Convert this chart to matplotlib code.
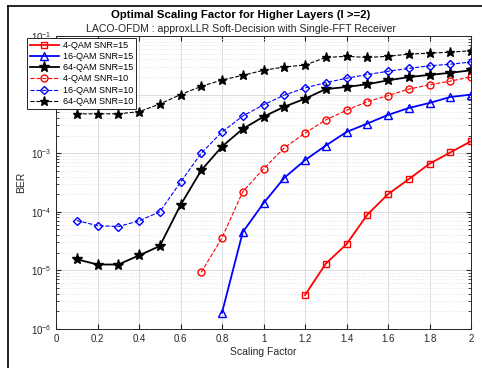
import numpy as np
import matplotlib.pyplot as plt
from matplotlib.lines import Line2D

plt.rcParams['font.family'] = ['Liberation Sans', 'DejaVu Sans']

sf = [0.1, 0.2, 0.3, 0.4, 0.5, 0.6, 0.7, 0.8, 0.9, 1.0,
      1.1, 1.2, 1.3, 1.4, 1.5, 1.6, 1.7, 1.8, 1.9, 2.0]

# SNR = 15
qam4_15 = [3.8e-6, 1.3e-5, 2.8e-5, 8.9e-5, 2.0e-4, 3.6e-4, 6.6e-4, 1.03e-3, 1.6e-3]
qam16_15 = [1.9e-6, 4.5e-5, 1.4e-4, 3.8e-4, 7.6e-4, 1.35e-3, 2.3e-3, 3.2e-3,
            4.5e-3, 5.9e-3, 7.2e-3, 9.1e-3, 1.0e-2]
qam64_15 = [1.55e-5, 1.26e-5, 1.26e-5, 1.8e-5, 2.6e-5, 1.3e-4, 5.1e-4, 1.3e-3,
            2.6e-3, 4.2e-3, 6.2e-3, 8.5e-3, 1.24e-2, 1.35e-2, 1.5e-2, 1.75e-2,
            1.99e-2, 2.17e-2, 2.35e-2, 2.6e-2]

# SNR = 10
qam4_10 = [9.3e-6, 3.6e-5, 2.2e-4, 5.4e-4, 1.23e-3, 2.2e-3, 3.7e-3, 5.4e-3,
           7.6e-3, 9.6e-3, 1.24e-2, 1.47e-2, 1.7e-2, 2.0e-2]
qam16_10 = [7.1e-5, 5.8e-5, 5.6e-5, 7.0e-5, 1.0e-4, 3.2e-4, 1.0e-3, 2.3e-3,
            4.3e-3, 6.7e-3, 9.8e-3, 1.3e-2, 1.6e-2, 1.9e-2, 2.2e-2, 2.5e-2,
            2.8e-2, 3.1e-2, 3.3e-2, 3.6e-2]
qam64_10 = [4.7e-3, 4.7e-3, 4.7e-3, 5.1e-3, 6.9e-3, 1.0e-2, 1.38e-2, 1.78e-2,
            2.13e-2, 2.6e-2, 2.96e-2, 3.2e-2, 4.3e-2, 4.5e-2, 4.3e-2, 4.5e-2,
            4.9e-2, 5.1e-2, 5.3e-2, 5.6e-2]

fig = plt.figure(figsize=(4.82, 3.68), dpi=100)
ax = fig.add_axes([56 / 482, 1 - 329 / 368, 415 / 482, 293 / 368])

ax.semilogy(sf[-len(qam4_15):], qam4_15, 'r-s', lw=1.3, ms=4, mfc='none', label='4-QAM SNR=15')
ax.semilogy(sf[-len(qam16_15):], qam16_15, 'b-^', lw=1.3, ms=6, mfc='none', label='16-QAM SNR=15')
ax.semilogy(sf, qam64_15, 'k-*', lw=1.3, ms=8, label='64-QAM SNR=15')
ax.semilogy(sf[-len(qam4_10):], qam4_10, 'r--o', lw=0.8, ms=5, mfc='none', label='4-QAM SNR=10')
ax.semilogy(sf, qam16_10, 'b--D', lw=0.8, ms=4.5, mfc='none', label='16-QAM SNR=10')
ax.semilogy(sf, qam64_10, 'k--*', lw=0.8, ms=6.5, label='64-QAM SNR=10')

ax.set_xlim(0, 2)
ax.set_ylim(1e-6, 1e-1)
ax.set_xticks(np.arange(0, 2.01, 0.2))
ax.set_xticklabels(['0', '0.2', '0.4', '0.6', '0.8', '1', '1.2', '1.4', '1.6', '1.8', '2'])
ax.tick_params(which='both', direction='in', top=True, right=True, labelsize=7, colors='#262626')
ax.grid(True, which='major', color='#dcdcdc', lw=0.7)
ax.grid(True, which='minor', axis='y', color='#e0e0e0', lw=0.6, ls=':')
for s in ax.spines.values():
    s.set_color('#262626')
    s.set_linewidth(0.7)

ax.set_xlabel('Scaling Factor', fontsize=7.5, color='#262626', labelpad=2)
ax.set_ylabel('BER', fontsize=7.5, color='#262626', labelpad=3)
fig.text(0.5, 1 - 15 / 368, 'Optimal Scaling Factor for Higher Layers (l >=2)',
         ha='center', va='center', fontsize=8.2, fontweight='bold')
fig.text(0.5, 1 - 29 / 368, 'LACO-OFDM : approxLLR Soft-Decision with Single-FFT Receiver',
         ha='center', va='center', fontsize=7.6, color='#262626')

leg = ax.legend(loc='upper left', bbox_to_anchor=(27 / 482, 1 - 38 / 368),
                bbox_transform=fig.transFigure, fontsize=6.5, fancybox=False,
                framealpha=1, edgecolor='#262626', borderpad=0.3, labelspacing=0.25,
                handlelength=3.2, handletextpad=0.5, borderaxespad=0)
leg.get_frame().set_linewidth(0.7)

fig.add_artist(Line2D([8 / 482, 8 / 482], [0, 1 - 6 / 368], color='black', lw=1.2, transform=fig.transFigure))
fig.add_artist(Line2D([8 / 482, 1], [1 - 6 / 368, 1 - 6 / 368], color='black', lw=1.2, transform=fig.transFigure))

fig.savefig('out.png', dpi=100)
